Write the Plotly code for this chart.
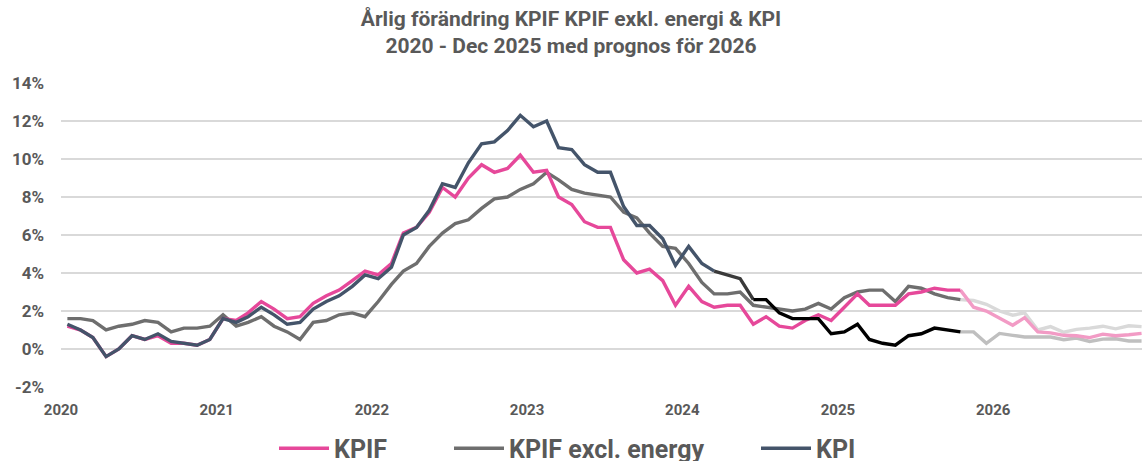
import pandas as pd
import plotly.graph_objects as go

# ---------------- data ----------------
month_starts = pd.date_range("2020-01-01", periods=84, freq="MS")   # Jan 2020 .. Dec 2026
year_labels = ["2020", "2021", "2022", "2023", "2024", "2025", "2026"]
y_tick_values = [-2, 0, 2, 4, 6, 8, 10, 12, 14]
y_tick_labels = ["-2%", "0%", "2%", "4%", "6%", "8%", "10%", "12%", "14%"]

# actual outcomes Jan 2020 .. Oct 2025 (70 months)
kpif_actual = [
    1.2, 1.0, 0.6, -0.4, 0.0, 0.7, 0.5, 0.7, 0.3, 0.3, 0.2, 0.5,
    1.6, 1.5, 1.9, 2.5, 2.1, 1.6, 1.7, 2.4, 2.8, 3.1, 3.6, 4.1,
    3.9, 4.5, 6.1, 6.4, 7.2, 8.5, 8.0, 9.0, 9.7, 9.3, 9.5, 10.2,
    9.3, 9.4, 8.0, 7.6, 6.7, 6.4, 6.4, 4.7, 4.0, 4.2, 3.6, 2.3,
    3.3, 2.5, 2.2, 2.3, 2.3, 1.3, 1.7, 1.2, 1.1, 1.5, 1.8, 1.5,
    2.2, 2.9, 2.3, 2.3, 2.3, 2.9, 3.0, 3.2, 3.1, 3.1,
]
kpif_excl_energy_actual = [
    1.6, 1.6, 1.5, 1.0, 1.2, 1.3, 1.5, 1.4, 0.9, 1.1, 1.1, 1.2,
    1.8, 1.2, 1.4, 1.7, 1.2, 0.9, 0.5, 1.4, 1.5, 1.8, 1.9, 1.7,
    2.5, 3.4, 4.1, 4.5, 5.4, 6.1, 6.6, 6.8, 7.4, 7.9, 8.0, 8.4,
    8.7, 9.3, 8.9, 8.4, 8.2, 8.1, 8.0, 7.2, 6.9, 6.1, 5.4, 5.3,
    4.5, 3.5, 2.9, 2.9, 3.0, 2.3, 2.2, 2.1, 2.0, 2.1, 2.4, 2.1,
    2.7, 3.0, 3.1, 3.1, 2.5, 3.3, 3.2, 2.9, 2.7, 2.6,
]
kpi_actual = [
    1.3, 1.0, 0.6, -0.4, 0.0, 0.7, 0.5, 0.8, 0.4, 0.3, 0.2, 0.5,
    1.6, 1.4, 1.7, 2.2, 1.8, 1.3, 1.4, 2.1, 2.5, 2.8, 3.3, 3.9,
    3.7, 4.3, 6.0, 6.4, 7.3, 8.7, 8.5, 9.8, 10.8, 10.9, 11.5, 12.3,
    11.7, 12.0, 10.6, 10.5, 9.7, 9.3, 9.3, 7.5, 6.5, 6.5, 5.8, 4.4,
    5.4, 4.5, 4.1, 3.9, 3.7, 2.6, 2.6, 1.9, 1.6, 1.6, 1.6, 0.8,
    0.9, 1.3, 0.5, 0.3, 0.2, 0.7, 0.8, 1.1, 1.0, 0.9,
]

# forecast Oct 2025 .. Dec 2026 (15 months, first point = last outcome)
kpif_forecast = [3.1, 2.2, 2.0, 1.6, 1.25, 1.65, 0.9, 0.85, 0.72, 0.7, 0.6, 0.78, 0.7, 0.75, 0.82]
kpif_excl_energy_forecast = [2.6, 2.55, 2.35, 2.0, 1.78, 1.9, 1.0, 1.18, 0.88, 1.03, 1.1, 1.2, 1.06, 1.22, 1.18]
kpi_forecast = [0.9, 0.9, 0.3, 0.82, 0.72, 0.63, 0.63, 0.63, 0.49, 0.58, 0.4, 0.52, 0.54, 0.42, 0.42]

# ---------------- helpers ----------------
x_mid = month_starts + pd.Timedelta(days=15)
n_act = len(kpi_actual)
x_act = x_mid[:n_act]
x_fc = x_mid[n_act - 1:n_act - 1 + len(kpi_forecast)]
year_ticks = [f"{y}-01-01" for y in year_labels]
x_range = ["2020-01-01", "2026-12-17"]

PINK = "#E6489A"
GRAY = "#6E6E6E"
BLUE = "#44546A"
LW = 3.4
TXT = "#595959"
FONT = "Roboto"

fig = go.Figure()

def add(x, y, color, name=None, legend=None):
    fig.add_trace(go.Scatter(
        x=x, y=y, mode="lines", name=name or "",
        line=dict(color=color, width=LW),
        showlegend=legend is not None, legend=legend or "legend",
        hoverinfo="skip"))

# forecasts (drawn first, underneath)
add(x_fc, kpi_forecast, "#BFBFBF")
add(x_fc, kpif_excl_energy_forecast, "#D9D9D9")
add(x_fc, kpif_forecast, "#F29BC5")

# outcomes
add(x_act, kpif_excl_energy_actual, GRAY, "KPIF excl. energy", "legend2")
add(x_act, kpif_actual, PINK, "KPIF", "legend")
k1, k2 = 51, 54
add(x_act[:k1], kpi_actual[:k1], BLUE, "KPI", "legend3")
add(x_act[k1 - 1:k2], kpi_actual[k1 - 1:k2], "#3A3A3A")
add(x_act[k2 - 1:], kpi_actual[k2 - 1:], "#000000")

tick_font = dict(family=FONT, size=17, color=TXT, weight="bold")
leg_font = dict(family=FONT, size=25, color=TXT, weight="bold")

def leg(xpos):
    return dict(orientation="h", xref="container", yref="container",
                x=xpos, y=0.027, xanchor="left", yanchor="middle",
                font=leg_font, bgcolor="rgba(0,0,0,0)", borderwidth=0,
                itemwidth=50, itemclick=False, itemdoubleclick=False)

fig.update_layout(
    width=1142, height=461,
    margin=dict(l=61, r=0, t=83, b=74),
    paper_bgcolor="white", plot_bgcolor="white",
    font=dict(family=FONT, color=TXT),
    title=dict(
        text="<b>Årlig förändring KPIF KPIF exkl. energi & KPI<br>2020 - Dec 2025 med prognos för 2026</b>",
        x=0.5, xref="container", xanchor="center",
        y=0.944, yref="container", yanchor="top",
        font=dict(family=FONT, size=21, color=TXT)),
    xaxis=dict(type="date", range=x_range, tickvals=year_ticks, ticktext=year_labels,
               showgrid=False, showline=False, zeroline=False, ticks="",
               tickfont=dict(family=FONT, size=15, color=TXT, weight="bold"),
               ticklabelstandoff=12),
    xaxis2=dict(type="date", range=x_range, overlaying="x", anchor="free", position=0.125,
                tickvals=year_ticks, showticklabels=False, showgrid=False, zeroline=False,
                showline=True, linecolor="black", linewidth=2,
                ticks="outside", ticklen=6, tickwidth=2, tickcolor="black", side="bottom"),
    yaxis=dict(range=[-2, 14], tickvals=y_tick_values, ticktext=y_tick_labels,
               showgrid=True, gridcolor="#D9D9D9", gridwidth=1.5, zeroline=False,
               showline=False, ticks="", tickfont=tick_font, ticklabelstandoff=16),
    legend=leg(274 / 1142),
    legend2=leg(449 / 1142),
    legend3=leg(756 / 1142),
)

fig.write_html("out.html", include_plotlyjs=True, config={"displayModeBar": False},
               post_script="document.body.style.margin='0';document.body.style.overflow='hidden';")
